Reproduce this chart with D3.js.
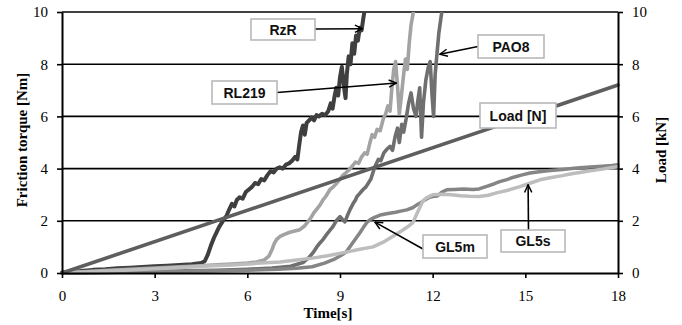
<!DOCTYPE html>
<html>
<head>
<meta charset="utf-8">
<script src="https://cdn.jsdelivr.net/npm/d3@7"></script>
<style>
  body { margin: 0; background: #fff; }
  svg { display: block; }
</style>
</head>
<body>
<svg id="chart" width="682" height="325"></svg>
<script>
// Tick values
const timeTicks = [0, 3, 6, 9, 12, 15, 18];
const torqueTicks = [0, 2, 4, 6, 8, 10];
const loadTicks = [0, 2, 4, 6, 8, 10];

// Friction torque [Nm] over time [s], one array of [t, torque] per lubricant
const rzr = [[0,0.02],[0.3,0.06],[0.6,0.08],[1.0,0.12],[1.4,0.14],[1.8,0.18],[2.2,0.2],[2.6,0.23],[3.0,0.26],[3.4,0.28],[3.8,0.31],[4.2,0.34],[4.5,0.38],[4.62,0.45],[4.72,0.7],[4.82,1.05],[4.92,1.35],[5.0,1.55],[5.08,1.75],[5.16,1.9],[5.24,2.05],[5.33,2.2],[5.42,2.45],[5.5,2.65],[5.58,2.55],[5.66,2.8],[5.75,2.9],[5.85,2.85],[5.95,3.1],[6.05,3.2],[6.15,3.3],[6.25,3.45],[6.35,3.4],[6.45,3.6],[6.55,3.55],[6.65,3.75],[6.75,3.9],[6.85,3.85],[6.95,4.0],[7.05,4.05],[7.15,4.0],[7.25,4.15],[7.35,4.2],[7.45,4.3],[7.55,4.45],[7.62,4.35],[7.68,4.9],[7.74,5.4],[7.8,5.65],[7.86,5.3],[7.92,5.75],[8.0,5.85],[8.08,5.95],[8.16,5.85],[8.24,6.05],[8.32,6.0],[8.42,6.1],[8.52,6.05],[8.62,6.2],[8.7,6.5],[8.76,6.3],[8.82,6.75],[8.88,7.1],[8.94,6.8],[9.0,7.5],[9.06,7.9],[9.12,7.2],[9.18,6.7],[9.22,7.6],[9.28,8.3],[9.34,8.0],[9.4,8.8],[9.46,8.4],[9.52,9.1],[9.58,8.9],[9.64,9.4],[9.7,9.3],[9.76,9.8],[9.82,10.2]];

const rl219 = [[0,0.01],[0.5,0.04],[1.0,0.07],[1.5,0.1],[2.0,0.13],[2.5,0.16],[3.0,0.19],[3.5,0.22],[4.0,0.25],[4.5,0.28],[5.0,0.31],[5.5,0.34],[6.0,0.38],[6.3,0.42],[6.55,0.5],[6.7,0.65],[6.8,0.9],[6.88,1.15],[6.96,1.3],[7.06,1.4],[7.2,1.48],[7.35,1.55],[7.5,1.6],[7.7,1.66],[7.85,1.8],[7.95,1.95],[8.05,2.1],[8.15,2.3],[8.25,2.45],[8.35,2.6],[8.45,2.8],[8.55,2.95],[8.67,3.19],[8.78,3.3],[8.9,3.45],[9.0,3.6],[9.1,3.75],[9.2,3.85],[9.3,3.96],[9.4,4.1],[9.5,4.25],[9.6,4.2],[9.7,4.45],[9.8,4.6],[9.88,4.55],[9.96,4.95],[10.04,5.3],[10.12,5.2],[10.2,5.5],[10.3,5.45],[10.4,5.9],[10.48,6.1],[10.55,6.4],[10.62,6.2],[10.68,7.1],[10.74,7.8],[10.8,8.1],[10.86,7.2],[10.92,6.1],[10.98,6.7],[11.05,7.5],[11.12,8.2],[11.18,7.8],[11.24,8.8],[11.3,9.5],[11.36,9.9],[11.4,10.2]];

const pao8 = [[0,0.0],[1,0.02],[2,0.04],[3,0.06],[4,0.08],[5,0.1],[6,0.14],[6.8,0.19],[7.4,0.26],[7.8,0.4],[8.0,0.6],[8.12,0.77],[8.25,1.0],[8.35,1.15],[8.45,1.28],[8.55,1.45],[8.65,1.6],[8.77,1.78],[8.88,2.0],[9.0,2.16],[9.08,2.05],[9.16,1.96],[9.24,2.2],[9.32,2.42],[9.42,2.65],[9.5,2.8],[9.55,2.93],[9.64,3.05],[9.74,3.19],[9.84,3.3],[9.92,3.45],[10.0,3.6],[10.08,3.9],[10.16,4.15],[10.24,4.35],[10.32,4.3],[10.42,4.6],[10.52,4.75],[10.62,4.85],[10.7,4.7],[10.78,5.2],[10.86,5.55],[10.92,5.0],[11.0,5.7],[11.06,5.4],[11.14,5.9],[11.22,6.5],[11.3,6.9],[11.38,6.3],[11.46,6.0],[11.52,6.6],[11.58,7.1],[11.64,5.2],[11.7,6.5],[11.78,7.4],[11.86,7.9],[11.92,8.1],[11.98,6.8],[12.03,6.0],[12.08,7.6],[12.14,8.4],[12.2,9.2],[12.26,9.7],[12.32,10.2]];

const gl5m = [[0,0.0],[1,0.01],[2,0.03],[3,0.05],[4,0.07],[5,0.09],[6,0.11],[7,0.14],[7.6,0.18],[8.1,0.24],[8.5,0.38],[8.8,0.52],[9.0,0.65],[9.2,0.8],[9.35,1.05],[9.5,1.3],[9.64,1.53],[9.76,1.75],[9.88,1.95],[9.97,2.04],[10.1,2.12],[10.3,2.22],[10.55,2.28],[10.8,2.33],[11.0,2.38],[11.16,2.42],[11.35,2.5],[11.5,2.62],[11.6,2.68],[11.75,2.8],[11.9,2.9],[12.0,2.93],[12.15,2.95],[12.3,3.1],[12.46,3.19],[12.7,3.2],[13.0,3.22],[13.3,3.2],[13.5,3.22],[13.75,3.32],[14.0,3.42],[14.17,3.5],[14.4,3.58],[14.65,3.68],[14.9,3.76],[15.15,3.83],[15.45,3.88],[15.8,3.93],[16.2,3.97],[16.5,4.0],[16.76,4.03],[17.1,4.06],[17.5,4.09],[17.8,4.12],[18,4.15]];

const gl5s = [[0,0.0],[1,0.06],[2,0.11],[3,0.16],[4,0.22],[4.5,0.26],[5.5,0.31],[6.3,0.37],[7.06,0.42],[7.6,0.5],[8.1,0.57],[8.6,0.66],[9.2,0.8],[9.6,0.9],[10.07,1.0],[10.4,1.18],[10.7,1.4],[11.0,1.62],[11.2,1.78],[11.36,1.93],[11.5,2.3],[11.6,2.55],[11.68,2.75],[11.8,2.88],[12.0,3.0],[12.3,3.02],[12.6,3.0],[12.9,2.96],[13.2,2.94],[13.5,2.93],[13.8,2.98],[14.1,3.08],[14.4,3.16],[14.8,3.3],[15.1,3.42],[15.47,3.57],[15.8,3.65],[16.2,3.73],[16.5,3.8],[16.76,3.85],[17.1,3.92],[17.5,3.98],[17.8,4.04],[18,4.07]];

// Applied load [kN], linear ramp
const loadTime = [0, 18];
const loadKN = [0, 7.2];

// Series styling
const series = [
  { name: "RzR",   data: rzr,   color: "#3f3f3f", width: 4.0 },
  { name: "RL219", data: rl219, color: "#a3a3a3", width: 3.6 },
  { name: "PAO8",  data: pao8,  color: "#6f6f6f", width: 3.6 },
  { name: "GL5m",  data: gl5m,  color: "#858585", width: 3.5 },
  { name: "GL5s",  data: gl5s,  color: "#bdbdbd", width: 3.5 }
];

const svg = d3.select("#chart");
const plotLeft = 62, plotRight = 618, plotTop = 12, plotBottom = 273;

const x = d3.scaleLinear().domain([0, 18]).range([plotLeft, plotRight]);
const y = d3.scaleLinear().domain([0, 10]).range([plotBottom, plotTop]);
const yLoad = d3.scaleLinear().domain([0, 10]).range([plotBottom, plotTop]);

const serif = "'Liberation Serif', 'Times New Roman', serif";
const sans = "'Liberation Sans', Arial, sans-serif";

// Clip region for the data lines
const defs = svg.append("defs");
defs.append("clipPath").attr("id", "plotClip")
  .append("rect").attr("x", plotLeft - 2).attr("y", plotTop)
  .attr("width", plotRight - plotLeft + 4).attr("height", plotBottom - plotTop + 3);

// Horizontal gridlines
svg.append("g").selectAll("line")
  .data(torqueTicks.filter(d => d > 0))
  .join("line")
  .attr("x1", plotLeft).attr("x2", plotRight)
  .attr("y1", d => y(d)).attr("y2", d => y(d))
  .attr("stroke", "#000").attr("stroke-width", 1.6);

// Data lines
const line = d3.line().x(d => x(d[0])).y(d => y(d[1]));
const plot = svg.append("g").attr("clip-path", "url(#plotClip)");
plot.selectAll("path.series")
  .data(series)
  .join("path")
  .attr("class", "series")
  .attr("d", d => line(d.data))
  .attr("fill", "none")
  .attr("stroke", d => d.color)
  .attr("stroke-width", d => d.width)
  .attr("stroke-linejoin", "round")
  .attr("stroke-linecap", "round");

// Load ramp against the right axis
const loadLine = d3.line().x((d, i) => x(loadTime[i])).y(d => yLoad(d));
plot.append("path")
  .attr("d", loadLine(loadKN))
  .attr("fill", "none")
  .attr("stroke", "#5e5e5e")
  .attr("stroke-width", 3.6)
  .attr("stroke-linecap", "round");

// Axes
function styleAxis(g) {
  g.select(".domain").attr("stroke", "#000").attr("stroke-width", 2);
  g.selectAll(".tick line").attr("stroke", "#000").attr("stroke-width", 1.6);
  g.selectAll(".tick text").attr("fill", "#000")
    .style("font-family", serif).style("font-size", "15px");
}

svg.append("g")
  .attr("transform", `translate(${plotLeft},0)`)
  .call(d3.axisLeft(y).tickValues(torqueTicks).tickFormat(d3.format("d")).tickSize(5).tickPadding(9).tickSizeOuter(0))
  .call(styleAxis);

svg.append("g")
  .attr("transform", `translate(${plotRight},0)`)
  .call(d3.axisRight(yLoad).tickValues(loadTicks).tickFormat(d3.format("d")).tickSize(5).tickPadding(9).tickSizeOuter(0))
  .call(styleAxis);

svg.append("g")
  .attr("transform", `translate(0,${plotBottom})`)
  .call(d3.axisBottom(x).tickValues(timeTicks).tickFormat(d3.format("d")).tickSize(5).tickPadding(12).tickSizeOuter(0))
  .call(styleAxis);

// Axis titles
svg.append("text")
  .attr("transform", "translate(27,140) rotate(-90)")
  .attr("text-anchor", "middle")
  .style("font-family", serif).style("font-size", "15px").style("font-weight", "bold")
  .text("Friction torque [Nm]");

svg.append("text")
  .attr("transform", "translate(666,150) rotate(-90)")
  .attr("text-anchor", "middle")
  .style("font-family", serif).style("font-size", "15px").style("font-weight", "bold")
  .text("Load [kN]");

svg.append("text")
  .attr("x", 328).attr("y", 318)
  .attr("text-anchor", "middle")
  .style("font-family", serif).style("font-size", "15px").style("font-weight", "bold")
  .text("Time[s]");

// Callouts: boxed label, with an arrow to a point on its curve
const callouts = [
  { text: "RzR",      box: [251, 19, 64, 21], from: [315, 29],    tip: [9.73, 9.36] },
  { text: "RL219",    box: [212, 81, 65, 23], from: [277, 92.5],  tip: [10.83, 7.28] },
  { text: "PAO8",     box: [478, 35, 66, 23], from: [478, 46.5],  tip: [12.23, 8.38] },
  { text: "Load [N]", box: [480, 103, 76, 25], from: null,        tip: null },
  { text: "GL5m",     box: [423, 235, 64, 23], from: [423, 249],  tip: [10.13, 1.95] },
  { text: "GL5s",     box: [501, 230, 64, 22], from: [528.5, 230], tip: [15.09, 3.38] }
];

defs.append("marker")
  .attr("id", "openArrow")
  .attr("viewBox", "0 0 10 10")
  .attr("refX", 9.5).attr("refY", 5)
  .attr("markerWidth", 9).attr("markerHeight", 9)
  .attr("markerUnits", "userSpaceOnUse")
  .attr("orient", "auto")
  .append("path")
  .attr("d", "M1,1 L9.5,5 L1,9")
  .attr("fill", "none").attr("stroke", "#000").attr("stroke-width", 1.6);

const cg = svg.append("g");
callouts.filter(c => c.tip).forEach(c => {
  cg.append("line")
    .attr("x1", c.from[0]).attr("y1", c.from[1])
    .attr("x2", x(c.tip[0])).attr("y2", y(c.tip[1]))
    .attr("stroke", "#000").attr("stroke-width", 1.6)
    .attr("marker-end", "url(#openArrow)");
});
callouts.forEach(c => {
  cg.append("rect")
    .attr("x", c.box[0]).attr("y", c.box[1])
    .attr("width", c.box[2]).attr("height", c.box[3])
    .attr("fill", "#fff").attr("stroke", "#b8b8b8").attr("stroke-width", 1.6);
  cg.append("text")
    .attr("x", c.box[0] + c.box[2] / 2).attr("y", c.box[1] + c.box[3] / 2 + 5)
    .attr("text-anchor", "middle")
    .style("font-family", sans).style("font-size", "14px").style("font-weight", "bold")
    .attr("fill", "#111")
    .text(c.text);
});
</script>
</body>
</html>
